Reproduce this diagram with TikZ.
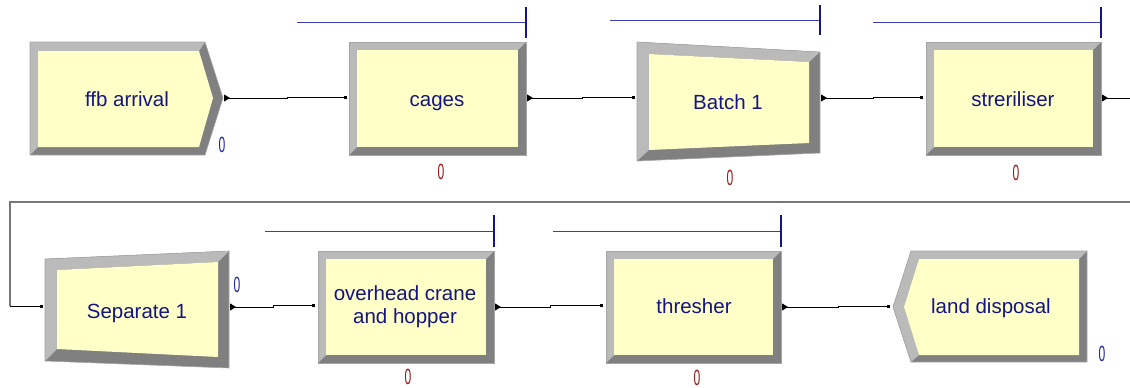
\documentclass[tikz,border=0pt]{standalone}
\usepackage{fontspec}
\setmainfont{Liberation Sans}
\usetikzlibrary{arrows.meta}
\definecolor{lite}{RGB}{186,186,186}
\definecolor{dark}{RGB}{128,128,128}
\definecolor{edge}{RGB}{165,165,165}
\definecolor{face}{RGB}{255,255,200}
\definecolor{navy}{RGB}{20,20,130}
\definecolor{cntblue}{RGB}{30,40,160}
\definecolor{cntred}{RGB}{150,25,25}
\definecolor{resblue}{RGB}{60,60,180}
\definecolor{loopgray}{RGB}{120,120,120}
\newcommand\bevrect[4]{%
  \fill[dark] (#1,#2) rectangle (#3,#4);
  \fill[lite] (#1,#2) -- (#3,#2) -- (#3-8,#2+8) -- (#1+8,#2+8) -- (#1+8,#4-8) -- (#1,#4) -- cycle;
  \fill[face] (#1+8,#2+8) rectangle (#3-8,#4-8);
  \draw[edge, line width=0.6pt] (#1,#2) rectangle (#3,#4);
}
\newcommand\zero{\scalebox{0.55}[1]{0}}
\tikzset{
  lbl/.style={text=navy, font=\fontsize{20.5}{23}\selectfont, align=center, inner sep=0},
  cnt/.style={font=\fontsize{22}{22}\selectfont, inner sep=0},
  conn/.style={line width=0.9pt, black, {Triangle[reversed,length=6pt,width=7pt]}-{Square[length=3pt,width=3pt]}},
  exitconn/.style={line width=0.9pt, black, {Triangle[reversed,length=6pt,width=7pt]}-},
  loopconn/.style={line width=1.3pt, loopgray},
  entconn/.style={line width=0.9pt, black, -{Square[length=3pt,width=3pt]}},
  res/.style={resblue, line width=1pt},
  restick/.style={navy, line width=1.2pt},
}
\begin{document}
\begin{tikzpicture}[x=1pt,y=-1pt]
\useasboundingbox (0,0) rectangle (1130,388);
\clip (0,0) rectangle (1130,388);

% ---------- ffb arrival (create) ----------
\fill[dark] (30,42) -- (205,42) -- (223,98) -- (205,155) -- (30,155) -- cycle;
\fill[lite] (30,42) -- (205,42) -- (199,51) -- (38,51) -- (38,147) -- (30,155) -- cycle;
\fill[face] (38,51) -- (199,51) -- (213,98) -- (199,147) -- (38,147) -- cycle;
\draw[edge, line width=0.6pt] (30,42) -- (205,42) -- (223,98) -- (205,155) -- (30,155) -- cycle;
\node[lbl, anchor=base] (ffb) at (127,106) {ffb arrival};
\node[cnt, text=cntblue] (ffbc) at (222,145) {\zero};

% ---------- cages ----------
\bevrect{349}{42}{526}{155}
\node[lbl, anchor=base] (cages) at (437,106) {cages};
\node[cnt, text=cntred] (cagesc) at (441,172) {\zero};
\draw[res] (297,22) -- (526,22);
\draw[restick] (526,7) -- (526,38);

% ---------- Batch 1 ----------
\fill[dark] (637,42) -- (820,52) -- (820,153) -- (637,161) -- cycle;
\fill[lite] (637,42) -- (820,52) -- (809,62) -- (649,54) -- (649,150) -- (637,161) -- cycle;
\fill[face] (649,54) -- (809,62) -- (809,143) -- (649,150) -- cycle;
\draw[edge, line width=0.6pt] (637,42) -- (820,52) -- (820,153) -- (637,161) -- cycle;
\node[lbl, anchor=base] (batch) at (728,109) {Batch 1};
\node[cnt, text=cntred] (batchc) at (730,178) {\zero};
\draw[res] (610,20) -- (820,20);
\draw[restick] (820,5) -- (820,35);

% ---------- streriliser ----------
\bevrect{926}{42}{1101}{155}
\node[lbl, anchor=base] (ster) at (1013,106) {streriliser};
\node[cnt, text=cntred] (sterc) at (1016,173) {\zero};
\draw[res] (873,22) -- (1101,22);
\draw[restick] (1101,7) -- (1101,38);

% ---------- Separate 1 ----------
\fill[dark] (45,259) -- (229,251) -- (229,368) -- (45,361) -- cycle;
\fill[lite] (45,259) -- (229,251) -- (218,262) -- (57,270) -- (57,349) -- (45,361) -- cycle;
\fill[face] (57,270) -- (218,262) -- (218,357) -- (57,349) -- cycle;
\draw[edge, line width=0.6pt] (45,259) -- (229,251) -- (229,368) -- (45,361) -- cycle;
\node[lbl, anchor=base] (sep) at (137,318) {Separate 1};
\node[cnt, text=cntblue] (sepc) at (237,285) {\zero};

% ---------- overhead crane and hopper ----------
\bevrect{318}{251}{494}{363}
\node[lbl] (oh) at (405,307) {overhead crane\\and hopper};
\node[cnt, text=cntred] (ohc) at (408,377) {\zero};
\draw[res] (265,231) -- (494,231);
\draw[restick] (494,215) -- (494,247);

% ---------- thresher ----------
\bevrect{606}{251}{781}{363}
\node[lbl, anchor=base] (thr) at (694,313) {thresher};
\node[cnt, text=cntred] (thrc) at (697,378) {\zero};
\draw[res] (553,231) -- (781,231);
\draw[restick] (781,215) -- (781,247);

% ---------- land disposal (dispose) ----------
\fill[dark] (911,251) -- (1087,251) -- (1087,362) -- (911,362) -- (893,307) -- cycle;
\fill[lite] (911,251) -- (1087,251) -- (1079,259) -- (919,259) -- (904,307) -- (919,355) -- (911,362) -- (893,307) -- cycle;
\fill[face] (919,259) -- (1079,259) -- (1079,355) -- (919,355) -- (904,307) -- cycle;
\draw[edge, line width=0.6pt] (911,251) -- (1087,251) -- (1087,362) -- (911,362) -- (893,307) -- cycle;
\node[lbl, anchor=base] (land) at (991,313) {land disposal};
\node[cnt, text=cntblue] (landc) at (1102,354) {\zero};

% ---------- connection points ----------
\coordinate (ffb-out) at (224,98);
\coordinate (cages-in) at (347,97);
\coordinate (cages-out) at (527,98);
\coordinate (batch-in) at (635,97);
\coordinate (batch-out) at (821,98);
\coordinate (ster-in) at (923,97);
\coordinate (ster-out) at (1102,98);
\coordinate (edge-r1) at (1140,98);
\coordinate (loop-r) at (1140,202);
\coordinate (loop-l) at (10,202);
\coordinate (loop-b) at (10,306);
\coordinate (sep-in) at (43,306);
\coordinate (sep-out) at (230,307);
\coordinate (oh-in) at (315,305);
\coordinate (oh-out) at (495,307);
\coordinate (thr-in) at (603,305);
\coordinate (thr-out) at (782,307);
\coordinate (land-in) at (890,306);

% ---------- connectors ----------
\draw[conn] (ffb-out) -- ++(63,0) |- (cages-in);
\draw[conn] (cages-out) -- ++(55,0) |- (batch-in);
\draw[conn] (batch-out) -- ++(52,0) |- (ster-in);
\draw[exitconn] (ster-out) -- (edge-r1);
\draw[loopconn] (loop-r) -- (loop-l) -- (loop-b);
\draw[entconn] (loop-b) -- (sep-in);
\draw[conn] (sep-out) -- ++(43,0) |- (oh-in);
\draw[conn] (oh-out) -- ++(55,0) |- (thr-in);
\draw[conn] (thr-out) -- ++(56,0) |- (land-in);
\end{tikzpicture}
\end{document}
